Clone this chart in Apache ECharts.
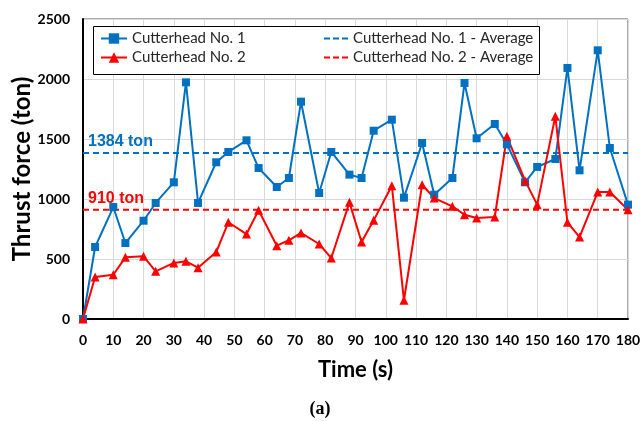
<!DOCTYPE html>
<html>
<head>
<meta charset="utf-8">
<script src="https://cdn.jsdelivr.net/npm/echarts@6/dist/echarts.min.js"></script>
<style>
  html, body { margin: 0; padding: 0; background: #fff; }
  #chart { width: 640px; height: 421px; }
</style>
</head>
<body>
<div id="chart"></div>
<script>
// Sampling times (s)
const times = [0, 4, 10, 14, 20, 24, 30, 34, 38, 44, 48, 54, 58, 64, 68, 72, 78, 82, 88, 92,
               96, 102, 106, 112, 116, 122, 126, 130, 136, 140, 146, 150, 156, 160, 164, 170, 174, 180];

// Thrust force (ton) for each cutterhead
const cutterhead1 = [0, 600, 933, 633, 819, 967, 1139, 1972, 967, 1306, 1392, 1489, 1258, 1100, 1175, 1811,
                     1050, 1392, 1203, 1175, 1569, 1661, 1011, 1467, 1036, 1175, 1967, 1506, 1625, 1456,
                     1139, 1267, 1333, 2092, 1239, 2239, 1425, 953];
const cutterhead2 = [0, 350, 369, 514, 522, 397, 467, 481, 428, 558, 806, 708, 906, 611, 656, 717,
                     625, 508, 972, 642, 822, 1111, 156, 1119, 1008, 939, 869, 842, 850, 1522,
                     1153, 953, 1689, 806, 683, 1058, 1058, 911];

// Average thrust (ton)
const average1 = 1384;
const average2 = 910;

const seriesNames = ['Cutterhead No. 1', 'Cutterhead No. 2',
                     'Cutterhead No. 1 - Average', 'Cutterhead No. 2 - Average'];

const BLUE = '#0070C0';
const RED = '#FF0000';
const FONT = 'Lato, "Open Sans", sans-serif';
const LABEL_FONT = '"Liberation Sans", Arial, sans-serif';
// three short dashes, used as the legend icon of the average lines
const DASH_ICON = 'path://M0 0H6V2H0Z M9 0H15V2H9Z M18 0H24V2H18Z';

const pairs = (ys) => times.map((t, i) => [t, ys[i]]);
const avgLine = (v) => [[times[0], v], [times[times.length - 1], v]];

const chart = echarts.init(document.getElementById('chart'), null, { renderer: 'canvas' });

const legendText = { fontFamily: FONT, fontSize: 15, color: '#262626' };

const avgSeries = (name, value, color) => ({
  name, type: 'line', data: avgLine(value),
  symbol: 'circle', symbolSize: 0, showSymbol: true,
  lineStyle: { color, width: 2, type: [6, 4] }, itemStyle: { color },
  z: 2,
  label: {
    show: true, position: 'top', align: 'left', offset: [5, 2],
    fontFamily: LABEL_FONT, fontSize: 16, fontWeight: 'bold', color,
    formatter: (p) => p.dataIndex === 0 ? p.value[1] + ' ton' : ''
  }
});

chart.setOption({
  animation: false,
  backgroundColor: '#ffffff',
  grid: {
    left: 83, right: 12, top: 19, bottom: 102,
    outerBoundsMode: 'none', containLabel: false,
    show: true, borderColor: '#595959', borderWidth: 1, backgroundColor: 'transparent'
  },
  legend: [
    {
      data: [seriesNames[0], seriesNames[1]],
      orient: 'vertical', left: 100, top: 31, itemGap: 4,
      itemWidth: 26, itemHeight: 13,
      textStyle: legendText, padding: 0
    },
    {
      data: [
        { name: seriesNames[2], icon: DASH_ICON },
        { name: seriesNames[3], icon: DASH_ICON }
      ],
      orient: 'vertical', left: 324, top: 31, itemGap: 4,
      itemWidth: 24, itemHeight: 13,
      textStyle: legendText, padding: 0
    }
  ],
  graphic: [{
    type: 'rect', left: 93, top: 26, z: 4,
    shape: { width: 446, height: 48 },
    style: { fill: '#fff', stroke: '#000', lineWidth: 1 }
  }, {
    type: 'text', left: 'center', top: 400,
    style: { text: '(a)', font: 'bold 18px "Liberation Serif", "Times New Roman", serif', fill: '#000' }
  }],
  xAxis: {
    type: 'value', min: 0, max: 180, interval: 10,
    name: 'Time (s)', nameLocation: 'middle', nameGap: 40,
    nameTextStyle: { fontFamily: FONT, fontSize: 22, fontWeight: 'bold', color: '#000' },
    axisLine: { show: true, onZero: false, lineStyle: { color: '#000', width: 2 } },
    axisTick: { show: false },
    axisLabel: { fontFamily: FONT, fontSize: 14, fontWeight: 'bold', color: '#000', margin: 14 },
    splitLine: { show: true, lineStyle: { color: '#d9d9d9', width: 1 } }
  },
  yAxis: {
    type: 'value', min: 0, max: 2500, interval: 500,
    name: 'Thrust force (ton)', nameLocation: 'middle', nameGap: 49, nameMoveOverlap: false,
    nameTextStyle: { fontFamily: FONT, fontSize: 24, fontWeight: 'bold', color: '#000' },
    axisLine: { show: true, onZero: false, lineStyle: { color: '#000', width: 2 } },
    axisTick: { show: false },
    axisLabel: {
      fontFamily: FONT, fontSize: 14, fontWeight: 'bold', color: '#000', margin: 13,
      formatter: (v) => String(v)
    },
    splitLine: { show: true, lineStyle: { color: '#d9d9d9', width: 1 } }
  },
  series: [
    {
      name: seriesNames[0], type: 'line', data: pairs(cutterhead1),
      symbol: 'rect', symbolSize: 8,
      lineStyle: { color: BLUE, width: 2 }, itemStyle: { color: BLUE },
      z: 3
    },
    {
      name: seriesNames[1], type: 'line', data: pairs(cutterhead2),
      symbol: 'triangle', symbolSize: 9,
      lineStyle: { color: RED, width: 2 }, itemStyle: { color: RED },
      z: 3
    },
    avgSeries(seriesNames[2], average1, BLUE),
    avgSeries(seriesNames[3], average2, RED)
  ]
});
</script>
</body>
</html>
